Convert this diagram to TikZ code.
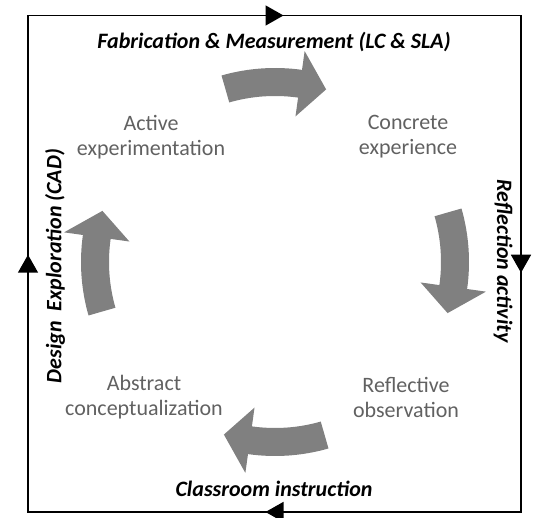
\documentclass[tikz,border=0pt]{standalone}
\usepackage{fontspec}
\setmainfont{Carlito}
\usetikzlibrary{arrows.meta, calc, decorations.markings}

\tikzset{
  lado/.style={line width=1.5pt, line cap=rect, postaction={decorate},
    decoration={markings, mark=at position 0.5 with {\arrow[xshift=9pt]{Triangle[length=18pt,width=20pt]}}}},
  fase/.style={text=black!62, align=center, font=\fontsize{22}{25}\selectfont},
  actividad/.style={font=\fontsize{22}{25}\selectfont\bfseries\itshape},
}

% flecha curva gris alrededor del centro (c)
\newcommand{\flechagris}[1]{%
  \fill[gray] ($(c)+(#1:194)$) arc[start angle=#1, delta angle=-24, radius=194]
    -- ($(c)+(#1-24:213)$) -- ($(c)+(#1-32.5:180)$) -- ($(c)+(#1-24:147)$)
    -- ($(c)+(#1-24:166)$) arc[start angle=#1-24, delta angle=24, radius=166] -- cycle;}

\begin{document}
\begin{tikzpicture}[x=1pt, y=1pt]
\useasboundingbox (0,0) rectangle (535,518);

% marco con el sentido del ciclo
\coordinate (no) at (28,502.5);
\coordinate (ne) at (521,502.5);
\coordinate (se) at (521,6);
\coordinate (so) at (28,6);
\draw[lado] (no) -- (ne);
\draw[lado] (ne) -- (se);
\draw[lado] (se) -- (so);
\draw[lado] (so) -- (no);

% actividades
\node[actividad] (fabricacion) at (274,476) {Fabrication \& Measurement (LC \& SLA)};
\node[actividad, rotate=-90] (reflexion) at (503,257) {Reflection activity};
\node[actividad] (clase) at (274,29) {Classroom instruction};
\node[actividad, rotate=90] (diseno) at (55,252) {Design\ \ Exploration (CAD)};

% fases del ciclo
\node[fase] (activa) at (151,381) {Active\\experimentation};
\node[fase] (concreta) at (408,381) {Concrete\\experience};
\node[fase] (reflexiva) at (406,121) {Reflective\\observation};
\node[fase] (abstracta) at (144,121) {Abstract\\conceptualization};

% flechas grises
\coordinate (c) at (275,256);
\flechagris{106}
\flechagris{16}
\flechagris{-74}
\flechagris{196}
\end{tikzpicture}
\end{document}
